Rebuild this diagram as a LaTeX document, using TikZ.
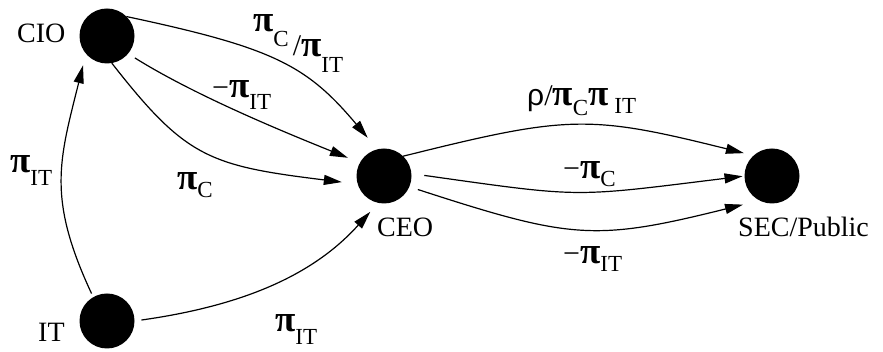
\documentclass[tikz,border=0pt]{standalone}
\usepackage{fontspec}
\setmainfont{Liberation Serif}
\newfontfamily\grkfont{Liberation Sans}
\newfontfamily\pifont{Liberation Serif Bold}
\usetikzlibrary{arrows.meta,positioning}
\newcommand{\gk}[1]{{\grkfont\fontsize{30}{30}\selectfont #1}}
\newcommand{\tx}[1]{{\fontsize{30}{30}\selectfont #1}}
\newcommand{\gpi}{{\pifont\fontsize{37}{37}\selectfont π}}
\newcommand{\sbs}[2][10pt]{\raisebox{-#1}{\fontsize{23}{23}\selectfont #2}}

\begin{document}
\begin{tikzpicture}[
  x=1pt, y=1pt,
  dot/.style={circle, fill=black, minimum size=55pt, inner sep=0pt, outer sep=0pt},
  who/.style={font=\fontsize{28}{28}\selectfont, inner sep=0pt, anchor=base west},
  lbl/.style={inner sep=0pt, anchor=base west},
  arr/.style={-{Triangle[length=18pt, width=10pt]}, line width=1.2pt}
]
\useasboundingbox (0,0) rectangle (883,352);
\node[dot] (cio) at (107,316) {};
\node[dot] (ceo) at (384,176) {};
\node[dot] (sec) at (772,176) {};
\node[dot] (it) at (107,31) {};
\node[who] (ciotxt) at (17,309) {CIO};
\node[who] (ittxt) at (38,10) {IT};
\node[who] (ceotxt) at (377,115) {CEO};
\node[who] (sectxt) at (738,115) {SEC/Public};
% CIO -> CEO
\draw[arr, shorten >=15pt] (cio.45) .. controls +(-12:150) and +(130:110) .. (ceo.104);
\draw[arr, shorten <=8pt, shorten >=13pt] (cio.-40) .. controls +(-32:80) and +(158:80) .. (ceo.151);
\draw[arr, shorten >=16pt] (cio.-80) .. controls +(-52:120) and +(173:150) .. (ceo.197);
% IT -> CIO, IT -> CEO
\draw[arr, shorten <=4pt, shorten >=12pt] (it.120) .. controls +(115:110) and +(256:110) .. (cio.220);
\draw[arr, shorten <=7pt, shorten >=12pt] (it.0) .. controls +(8:120) and +(228:90) .. (ceo.258);
% CEO -> SEC/Public
\draw[arr, shorten >=10pt] (ceo.46) .. controls +(14:170) and +(166:170) .. (sec.132);
\draw[arr, shorten <=13pt, shorten >=2pt] (ceo.5) .. controls +(-8:175) and +(187:175) .. (sec.180);
\draw[arr, shorten <=9pt, shorten >=17pt] (ceo.-23) .. controls +(-18:170) and +(194:170) .. (sec.243);
% labels
\node[lbl] (ciotop) at (253,320) {\gpi\sbs[15pt]{C}\hspace{4pt}\raisebox{-24pt}{\tx{/}}\raisebox{-25pt}{\gpi\sbs[16pt]{IT}}};
\node[lbl] (ciomid) at (212,254) {\tx{−}\gpi\sbs[12pt]{IT}};
\node[lbl] (ciolow) at (177,162) {\gpi\sbs[8pt]{C}};
\node[lbl] (itup) at (10,179) {\gpi\sbs[13pt]{IT}};
\node[lbl] (itceo) at (275,20) {\gpi\sbs[13pt]{IT}};
\node[lbl] (ceotop) at (527,246) {\gk{ρ}\tx{/}\gpi\sbs[10pt]{C}\gpi\hspace{6pt}\sbs[8pt]{IT}};
\node[lbl] (ceomid) at (563,173) {\tx{−}\gpi\sbs[8pt]{C}};
\node[lbl] (ceolow) at (563,88) {\tx{−}\gpi\sbs[8pt]{IT}};
\end{tikzpicture}
\end{document}
